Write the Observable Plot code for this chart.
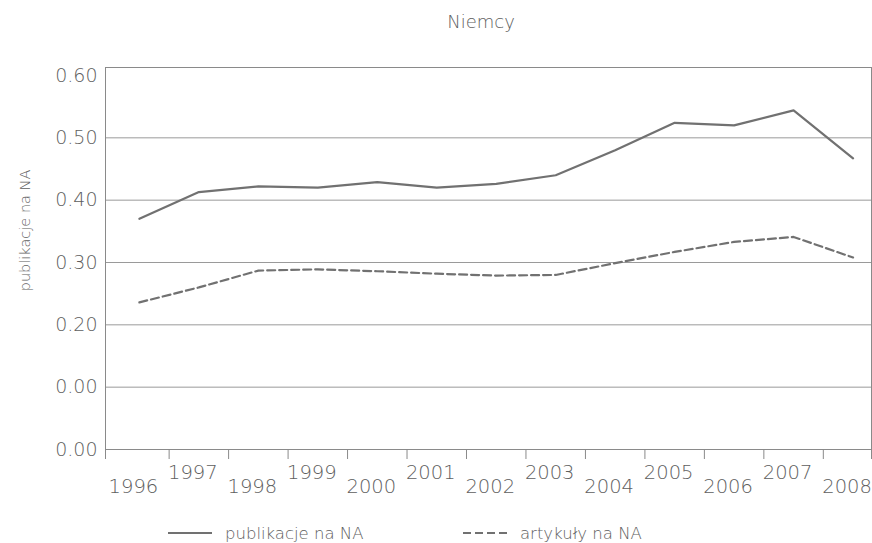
<!DOCTYPE html>
<html><head><meta charset="utf-8">
<script src="https://cdn.jsdelivr.net/npm/d3@7"></script>
<script src="https://cdn.jsdelivr.net/npm/@observablehq/plot@0.6"></script>
<style>
body{margin:0;background:#fff;}
#wrap{position:relative;width:872px;height:543px;font-family:"DejaVu Sans",sans-serif;color:#5e5e5e;font-weight:200;overflow:hidden}
#title{position:absolute;top:12px;left:481px;transform:translateX(-50%);font-size:18px;line-height:20px;white-space:nowrap}
#chart{position:absolute;left:0;top:0}
.leg{position:absolute;top:523px;height:20px;display:flex;align-items:center;font-size:16.5px;white-space:nowrap}
.leg svg{margin-right:13px}
</style></head><body>
<div id="wrap"><div id="chart"></div><div id="title"></div><div id="legend"></div></div>
<script>
const years = [1996,1997,1998,1999,2000,2001,2002,2003,2004,2005,2006,2007,2008];
const publikacje = [0.370,0.413,0.422,0.420,0.429,0.420,0.426,0.440,0.480,0.524,0.520,0.544,0.467];
const artykuly = [0.236,0.260,0.287,0.289,0.286,0.282,0.279,0.280,0.299,0.317,0.333,0.341,0.308];
const yTicks = [0,0.1,0.2,0.3,0.4,0.5,0.6];
const yTickLabels = ["0.00","0.00","0.20","0.30","0.40","0.50","0.60"];
const titleText = "Niemcy";
const yLabel = "publikacje na NA";
const seriesNames = ["publikacje na NA","artykuły na NA"];

const lineColor = "#717171";
const textColor = "#5e5e5e";
const axisColor = "#8a8a8a";
const dash = "8,4";

const xDomain = [1995.43, 2008.31];
const boundaries = [xDomain[0], ...years.slice(1).map(y => y - 0.5), xDomain[1]];
const rowsP = years.map((year, i) => ({year, value: publikacje[i]}));
const rowsA = years.map((year, i) => ({year, value: artykuly[i]}));

const chart = Plot.plot({
  width: 872, height: 543,
  marginTop: 67, marginBottom: 94, marginLeft: 105, marginRight: 1,
  style: "font-family:'DejaVu Sans',sans-serif;font-weight:200;color:" + textColor + ";background:#fff;",
  x: {type: "linear", domain: xDomain},
  y: {domain: [0, 0.6], range: [449, 75]},
  marks: [
    Plot.ruleY(yTicks.filter(v => v < 0.6), {stroke: "#9a9a9a", strokeWidth: 1}),
    Plot.frame({stroke: axisColor}),
    Plot.axisY(yTicks, {tickSize: 0, tickPadding: 8, fontSize: 19, fill: textColor,
      tickFormat: d => yTickLabels[yTicks.indexOf(d)], label: null}),
    Plot.axisX(boundaries, {tickSize: 10, stroke: axisColor, tickFormat: () => "", label: null}),
    Plot.text(years.filter(y => (y - years[0]) % 2 === 0), {x: d => d, text: d => String(d),
      frameAnchor: "bottom", dx: -6, dy: 37, fontSize: 19.5, fill: textColor, lineAnchor: "middle"}),
    Plot.text(years.filter(y => (y - years[0]) % 2 === 1), {x: d => d, text: d => String(d),
      frameAnchor: "bottom", dx: -6, dy: 23, fontSize: 19.5, fill: textColor, lineAnchor: "middle"}),
    Plot.text([yLabel], {frameAnchor: "left", textAnchor: "middle", rotate: -90, dx: -80, dy: -28,
      fontSize: 14.5, fill: textColor}),
    Plot.line(rowsA, {x: "year", y: "value", stroke: lineColor, strokeWidth: 2.2, strokeDasharray: dash}),
    Plot.line(rowsP, {x: "year", y: "value", stroke: lineColor, strokeWidth: 2.2})
  ]
});
document.getElementById("chart").appendChild(chart);
document.getElementById("title").textContent = titleText;

const legend = document.getElementById("legend");
const legLeft = [168, 463];
seriesNames.forEach((name, i) => {
  const item = document.createElement("div");
  item.className = "leg";
  item.style.left = legLeft[i] + "px";
  item.innerHTML = `<svg width="44" height="4"><line x1="0" x2="44" y1="2" y2="2" stroke="${lineColor}" stroke-width="2.2" ${i === 1 ? `stroke-dasharray="${dash}"` : ""}/></svg><span></span>`;
  item.querySelector("span").textContent = name;
  legend.appendChild(item);
});
</script>
</body></html>
